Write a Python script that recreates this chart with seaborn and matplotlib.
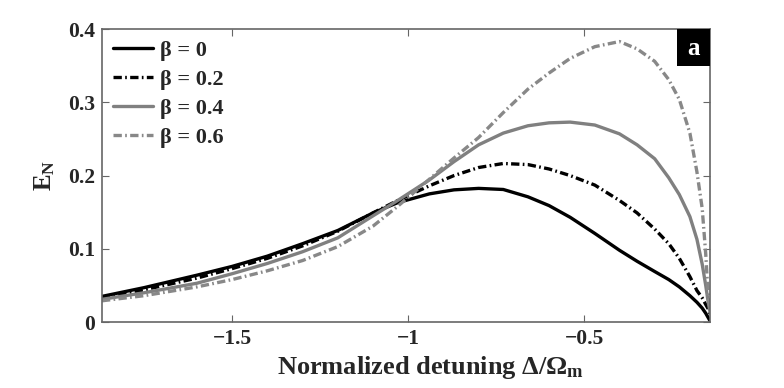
import matplotlib
matplotlib.use("Agg")
import matplotlib.pyplot as plt
from matplotlib.patches import Rectangle
import seaborn as sns

# normalized detuning (x) and entanglement E_N for each beta
delta = [-1.87, -1.75, -1.6, -1.5, -1.4, -1.3, -1.2, -1.1, -1.03, -0.94, -0.87, -0.8, -0.73, -0.66,
         -0.6, -0.54, -0.47, -0.4, -0.35, -0.3, -0.26, -0.23, -0.2, -0.18, -0.165, -0.155, -0.148, -0.142]
en_b00 = [0.035, 0.047, 0.064, 0.076, 0.090, 0.107, 0.125, 0.149, 0.163, 0.175, 0.1805, 0.1825, 0.181, 0.171,
          0.159, 0.143, 0.121, 0.098, 0.083, 0.069, 0.058, 0.048, 0.036, 0.027, 0.019, 0.012, 0.006, 0.001]
en_b02 = [0.033, 0.044, 0.060, 0.073, 0.087, 0.104, 0.124, 0.149, 0.166, 0.186, 0.200, 0.211, 0.2165, 0.215,
          0.209, 0.200, 0.187, 0.166, 0.149, 0.127, 0.107, 0.087, 0.062, 0.043, 0.033, 0.024, 0.018, 0.010]
en_b04 = [0.031, 0.040, 0.053, 0.066, 0.080, 0.096, 0.115, 0.145, 0.166, 0.194, 0.219, 0.242, 0.258, 0.268,
          0.272, 0.273, 0.269, 0.257, 0.242, 0.223, 0.197, 0.174, 0.144, 0.113, 0.079, 0.050, 0.027, 0.012]
en_b06 = [0.029, 0.036, 0.048, 0.058, 0.070, 0.084, 0.103, 0.131, 0.158, 0.195, 0.224, 0.252, 0.286, 0.318,
          0.340, 0.360, 0.376, 0.383, 0.373, 0.356, 0.331, 0.304, 0.258, 0.205, 0.155, 0.093, 0.035, 0.020]
labels = ["β = 0", "β = 0.2", "β = 0.4", "β = 0.6"]

sns.set_style("ticks")
plt.rcParams['font.family'] = ['Liberation Serif', 'DejaVu Serif']
plt.rcParams['font.weight'] = 'bold'
plt.rcParams['mathtext.fontset'] = 'custom'
plt.rcParams['mathtext.rm'] = 'Liberation Serif:bold'
plt.rcParams['mathtext.bf'] = 'Liberation Serif:bold'
plt.rcParams['mathtext.it'] = 'Liberation Serif:bold'

fig = plt.figure(figsize=(7.84, 3.88), dpi=100)
ax = fig.add_axes([0.130, 0.170, 0.776, 0.755])

dashdot = (0, (2.5, 1.0, 0.5, 1.0))
styles = [
    ("black", "-"),
    ("black", dashdot),
    ("#808080", "-"),
    ("#888888", dashdot),
]
for vals, lab, (col, ls) in zip([en_b00, en_b02, en_b04, en_b06], labels, styles):
    sns.lineplot(x=delta, y=vals, ax=ax, color=col, linestyle=ls, linewidth=2.4, label=lab)

ax.set_xlim(-1.87, -0.142)
ax.set_ylim(0, 0.4)
ax.set_xticks([-1.5, -1, -0.5])
ax.set_xticklabels(["\u22121.5", "\u22121", "\u22120.5"])
ax.set_yticks([0, 0.1, 0.2, 0.3, 0.4])
ax.set_yticklabels(["0", "0.1", "0.2", "0.3", "0.4"])
ax.tick_params(direction="in", top=True, right=True, length=5, width=0.8, color="#666666",
               labelsize=15.5, pad=5)
for sp in ax.spines.values():
    sp.set_color("#666666")
    sp.set_linewidth(1.2)

ax.set_xlabel("Normalized detuning \u0394/\u03a9$_\\mathregular{m}$", fontsize=19, fontweight="bold")
ax.xaxis.set_label_coords(0.54, -0.11, transform=ax.transAxes)
ax.xaxis.label.set_va("top")
ax.set_ylabel("E$_\\mathregular{N}$", fontsize=18, fontweight="bold", labelpad=8)

leg = ax.legend(loc="upper left", frameon=False, fontsize=16, handlelength=1.8,
                borderaxespad=0.05, borderpad=0.45, labelspacing=0.38, handletextpad=0.3)
for t in leg.get_texts():
    t.set_fontweight("bold")

# corner panel tag
ax.add_patch(Rectangle((0.946, 0.874), 0.054, 0.126, transform=ax.transAxes,
                       facecolor="black", edgecolor="none", zorder=5, clip_on=False))
ax.text(0.973, 0.935, "a", transform=ax.transAxes, ha="center", va="center", fontsize=18,
        fontweight="bold", color="white", zorder=6)

fig.savefig("out.png", dpi=100)
